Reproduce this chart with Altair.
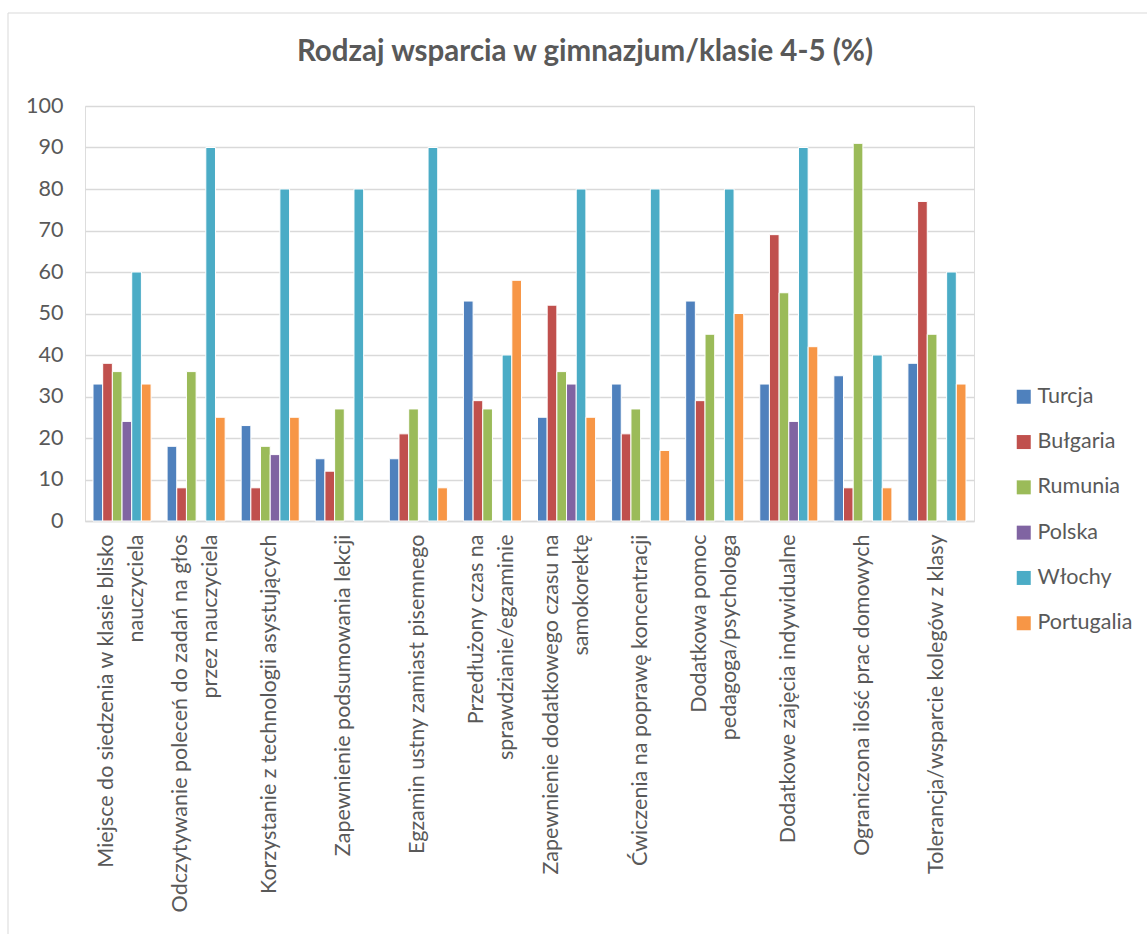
import altair as alt
import pandas as pd

categories = [
    "Miejsce do siedzenia w klasie blisko\nnauczyciela",
    "Odczytywanie poleceń do zadań na głos\nprzez nauczyciela",
    "Korzystanie z technologii asystujących",
    "Zapewnienie podsumowania lekcji",
    "Egzamin ustny zamiast pisemnego",
    "Przedłużony czas na\nsprawdzianie/egzaminie",
    "Zapewnienie dodatkowego czasu na\nsamokorektę",
    "Ćwiczenia na poprawę koncentracji",
    "Dodatkowa pomoc\npedagoga/psychologa",
    "Dodatkowe zajęcia indywidualne",
    "Ograniczona ilość prac domowych",
    "Tolerancja/wsparcie kolegów z klasy",
]

countries = ["Turcja", "Bułgaria", "Rumunia", "Polska", "Włochy", "Portugalia"]
colors = ["#4F81BD", "#C0504D", "#9BBB59", "#8064A2", "#4BACC6", "#F79646"]

turcja = [33, 18, 23, 15, 15, 53, 25, 33, 53, 33, 35, 38]
bulgaria = [38, 8, 8, 12, 21, 29, 52, 21, 29, 69, 8, 77]
rumunia = [36, 36, 18, 27, 27, 27, 36, 27, 45, 55, 91, 45]
polska = [24, 0, 16, 0, 0, 0, 33, 0, 0, 24, 0, 0]
wlochy = [60, 90, 80, 80, 90, 40, 80, 80, 80, 90, 40, 60]
portugalia = [33, 25, 25, 0, 8, 58, 25, 17, 50, 42, 8, 33]

title_text = "Rodzaj wsparcia w gimnazjum/klasie 4-5 (%)"

series = [turcja, bulgaria, rumunia, polska, wlochy, portugalia]
rows = []
for country, vals in zip(countries, series):
    for cat, v in zip(categories, vals):
        rows.append({"kategoria": cat, "kraj": country, "wartosc": v})
df = pd.DataFrame(rows)

FONT = "Lato"
GREY = "#595959"
FS = 21.5

bars = alt.Chart(df).transform_filter("datum.wartosc > 0").mark_bar(
    stroke="white", strokeWidth=1
).encode(
    x=alt.X(
        "kategoria:N",
        sort=categories,
        title=None,
        scale=alt.Scale(paddingInner=0.216, paddingOuter=0.108),
        axis=alt.Axis(
            labelAngle=-90,
            labelAlign="right",
            labelBaseline="middle",
            labelExpr="split(datum.label, '\\n')",
            labelLineHeight=30,
            labelFontSize=FS,
            labelFont=FONT,
            labelColor=GREY,
            labelPadding=13,
            labelOffset={
                "condition": {"test": "indexof(datum.label, '\\n') >= 0", "value": -15},
                "value": 0,
            },
            ticks=False,
            domainColor="#D9D9D9",
            domainWidth=1.5,
            labelLimit=0,
        ),
    ),
    xOffset=alt.XOffset("kraj:N", sort=countries, scale=alt.Scale(paddingInner=0, paddingOuter=0)),
    y=alt.Y(
        "wartosc:Q",
        title=None,
        scale=alt.Scale(domain=[0, 100]),
        axis=alt.Axis(
            values=list(range(0, 101, 10)),
            labelFontSize=FS,
            labelFont=FONT,
            labelColor=GREY,
            labelPadding=22,
            ticks=False,
            domain=False,
            gridColor="#D9D9D9",
            gridWidth=1.5,
        ),
    ),
    color=alt.Color(
        "kraj:N",
        sort=countries,
        scale=alt.Scale(domain=countries, range=colors),
        legend=alt.Legend(
            title=None,
            orient="none",
            legendX=928,
            legendY=280,
            symbolType="square",
            symbolSize=196,
            symbolStrokeWidth=0,
            labelFontSize=FS,
            labelFont=FONT,
            labelColor=GREY,
            rowPadding=22.3,
            labelOffset=3,
        ),
    ),
)

border = alt.Chart(alt.Data(values=[{}])).mark_rect(
    fill=None, stroke="#D9D9D9", strokeWidth=1
).encode(
    x=alt.value(-77), x2=alt.value(1080), y=alt.value(-93), y2=alt.value(850)
)

title = alt.Chart(alt.Data(values=[{"t": title_text}])).mark_text(
    font=FONT, fontSize=29.5, fontWeight="bold", color=GREY,
    align="center", baseline="middle"
).encode(
    text="t:N", x=alt.value(500), y=alt.value(-54)
)

chart = alt.layer(border, bars, title).properties(
    width=889,
    height=415,
    autosize=alt.AutoSizeParams(type="none"),
    padding={"left": 85, "top": 106, "right": 173, "bottom": 413},
).configure_view(stroke=None).configure(background="white")

chart.save("out.html", embed_options={"renderer": "svg", "actions": False})
